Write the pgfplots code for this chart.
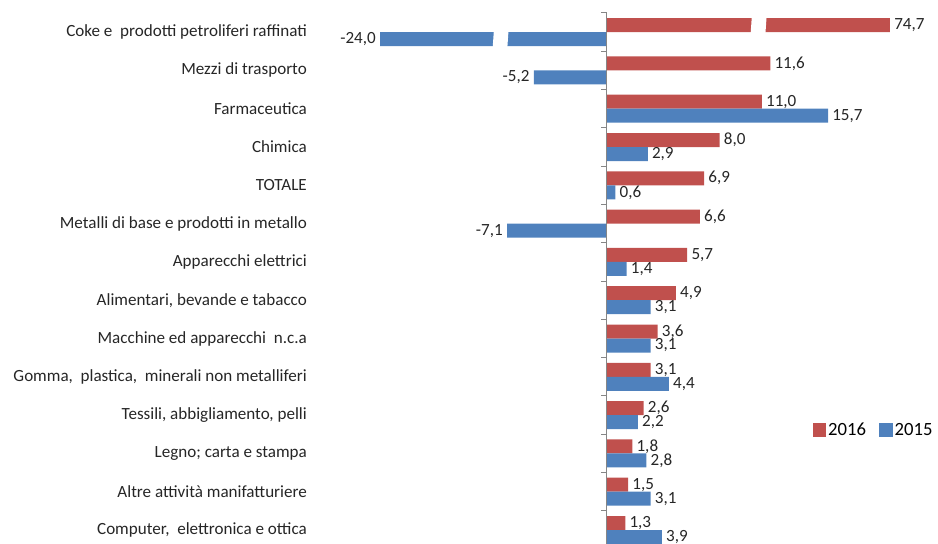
\documentclass[border=0pt]{standalone}
\usepackage{pgfplots}
\pgfplotsset{compat=1.18}
\usepackage{pgfplotstable}
\usepackage{fontspec}
\setmainfont{Carlito}
\definecolor{r16}{HTML}{C0504D}
\definecolor{b15}{HTML}{4F81BD}
\definecolor{axg}{HTML}{868686}
% displayed bar lengths (Coke bars are drawn broken); labels give true values
\pgfplotstableread{
y v l
13 20.1 74,7
12 11.6 11,6
11 11.0 11,0
10 8.0 8,0
9 6.9 6,9
8 6.6 6,6
7 5.7 5,7
6 4.9 4,9
5 3.6 3,6
4 3.1 3,1
3 2.6 2,6
2 1.8 1,8
1 1.5 1,5
0 1.3 1,3
}\dataA
\pgfplotstableread{
y v l
11 15.7 15,7
10 2.9 2,9
9 0.6 0,6
7 1.4 1,4
6 3.1 3,1
5 3.1 3,1
4 4.4 4,4
3 2.2 2,2
2 2.8 2,8
1 3.1 3,1
0 3.9 3,9
}\dataBpos
\pgfplotstableread{
y v l
13 -16.12 -24,0
12 -5.2 -5,2
8 -7.1 -7,1
}\dataBneg
\begin{document}
\begin{tikzpicture}
\begin{axis}[
  scale only axis, width=473.2pt, height=402.15pt,
  xmin=-21.3, xmax=23.51, ymin=-0.5, ymax=13.5,
  enlargelimits=false,
  xbar, bar width=0.3655,
  axis line style={draw=none},
  xtick=\empty, ytick={0,...,13},
  yticklabels={{Computer,~ elettronica e ottica},{Altre attività manifatturiere},{Legno; carta e stampa},{Tessili, abbigliamento, pelli},{Gomma,~ plastica,~ minerali non metalliferi},{Macchine ed apparecchi~ n.c.a},{Alimentari, bevande e tabacco~},{Apparecchi elettrici},{Metalli di base e prodotti in metallo},{TOTALE},{Chimica},{Farmaceutica},{Mezzi di trasporto},{Coke e~ prodotti petroliferi raffinati}},
  major tick length=0pt,
  yticklabel style={inner sep=0pt, anchor=east, font=\fontsize{12.8}{15}\selectfont, text=black!85},
  legend style={at={(0.8012,0.222)}, anchor=west, draw=none, fill=none, legend columns=2, inner sep=0pt,
    font=\fontsize{14}{16}\selectfont, nodes={inner sep=1.5pt},
    /tikz/every even column/.append style={column sep=8.5pt}},
  point meta=explicit symbolic,
]
\addplot[xbar, fill=r16, draw=none, bar shift=0.183,
  nodes near coords,
  nodes near coords style={font=\fontsize{12.8}{15}\selectfont, anchor=west, inner sep=3pt, text=black!85},
  legend image code/.code={\fill[r16] (0pt,-5pt) rectangle (10pt,5pt);}]
  table[x=v, y=y, meta=l]{\dataA};
\addplot[xbar, fill=b15, draw=none, bar shift=-0.183,
  nodes near coords,
  nodes near coords style={font=\fontsize{12.8}{15}\selectfont, anchor=west, inner sep=3pt, text=black!85},
  legend image code/.code={\fill[b15] (0pt,-5pt) rectangle (10pt,5pt);}]
  table[x=v, y=y, meta=l]{\dataBpos};
\addplot[xbar, fill=b15, draw=none, bar shift=-0.183, forget plot,
  nodes near coords,
  nodes near coords style={font=\fontsize{12.8}{15}\selectfont, anchor=east, inner sep=3pt, text=black!85}]
  table[x=v, y=y, meta=l]{\dataBneg};
\legend{2016,2015}
% axis breaks
\fill[white] (axis cs:10.20,12.95) -- (axis cs:10.29,13.42) -- (axis cs:11.34,13.42) -- (axis cs:11.25,12.95) -- cycle;
\fill[white] (axis cs:-8.12,12.58) -- (axis cs:-8.03,13.06) -- (axis cs:-6.99,13.06) -- (axis cs:-7.08,12.58) -- cycle;
% category axis at zero
\draw[axg, line width=0.75pt] (axis cs:0,13.5) -- (axis cs:0,-0.5);
\pgfplotsinvokeforeach{-0.5,0.5,...,13.5}{\draw[axg, line width=0.75pt] (axis cs:0,#1) -- (axis cs:-0.43,#1);}
\coordinate (TL) at (axis cs:-43.11,13.839);
\coordinate (BR) at (axis cs:23.51,-0.364);
\end{axis}
\pgfresetboundingbox
\useasboundingbox (TL) rectangle (BR);
\end{tikzpicture}
\end{document}
